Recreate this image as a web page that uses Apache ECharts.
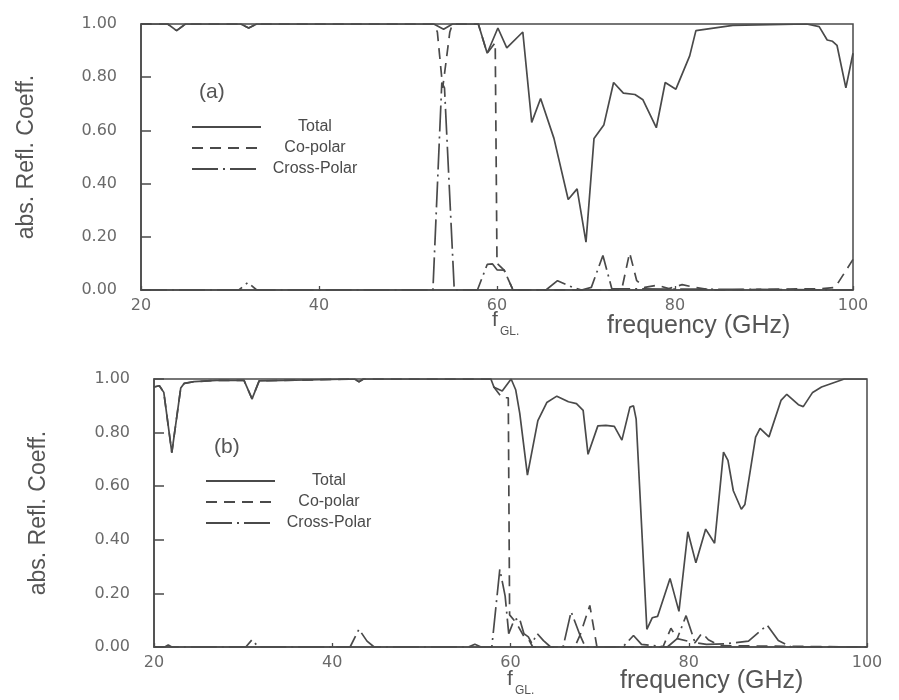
<!DOCTYPE html>
<html><head><meta charset="utf-8">
<script src="https://cdn.jsdelivr.net/npm/echarts@6/dist/echarts.min.js"></script>
<style>html,body{margin:0;padding:0;background:#fff}#c{width:899px;height:700px}</style>
</head><body><div id="c"></div>
<script>
// ---- data (frequency in GHz, |reflection coefficient|) ----
const seriesNames = ['Total', 'Co-polar', 'Cross-Polar'];
const yTickValues = [0, 0.2, 0.4, 0.6, 0.8, 1.0];
const xTickValues = [20, 40, 60, 80, 100];

// panel (a)
const aTotalX = [20, 23.0, 24.0, 25.0, 31.2, 32.1, 33.0, 52.9, 54.0, 55.0, 57.9, 58.9, 60.1, 61.1, 62.9, 63.9, 64.9, 66.4, 68.0, 69.0, 70.0, 70.9, 72.0, 73.1, 74.2, 75.5, 76.4, 77.9, 78.9, 80.1, 81.65, 82.35, 86.5, 94.8, 96.2, 97.1, 97.7, 98.2, 99.2, 100];
const aTotalY = [1.0, 1.0, 0.975, 1.0, 1.0, 0.985, 1.0, 1.0, 0.98, 1.0, 1.0, 0.89, 0.985, 0.91, 0.97, 0.63, 0.72, 0.57, 0.34, 0.38, 0.18, 0.57, 0.62, 0.78, 0.74, 0.735, 0.715, 0.61, 0.78, 0.755, 0.88, 0.975, 0.995, 1.0, 0.99, 0.94, 0.935, 0.92, 0.76, 0.89];
const aCoX = [20, 23.0, 24.0, 25.0, 31.2, 32.1, 33.0, 52.9, 53.3, 53.9, 54.7, 55.0, 57.9, 58.9, 59.8, 60.0, 60.8, 61.8, 74.0, 74.9, 75.7, 76.6, 78.0, 79.3, 80.8, 82.2, 84.0, 96.5, 98.0, 100];
const aCoY = [1.0, 1.0, 0.975, 1.0, 1.0, 0.985, 1.0, 1.0, 0.97, 0.76, 0.97, 1.0, 1.0, 0.89, 0.93, 0.10, 0.075, 0.0, 0.0, 0.14, 0.035, 0.01, 0.018, 0.005, 0.02, 0.01, 0.0, 0.005, 0.01, 0.115];
const aCrossX = [20, 31.0, 32.0, 33.0, 52.8, 53.8, 54.1, 55.2, 57.8, 58.9, 59.5, 60.0, 60.8, 61.8, 65.5, 66.8, 68.5, 69.5, 70.6, 71.9, 72.9, 100];
const aCrossY = [0, 0, 0.028, 0, 0, 0.78, 0.76, 0, 0, 0.096, 0.098, 0.076, 0.075, 0, 0, 0.035, 0.01, 0, 0.01, 0.13, 0.005, 0];

// panel (b)
const bTotalX = [20, 20.6, 21.1, 22.0, 23.0, 23.4, 24.5, 27.0, 30.1, 31.0, 31.8, 42.5, 43.0, 43.5, 57.8, 58.15, 59.07, 60.07, 60.58, 61.04, 61.9, 63.07, 64.07, 65.2, 66.5, 67.4, 68.15, 68.7, 69.8, 70.7, 71.65, 72.5, 73.4, 73.8, 74.1, 75.3, 75.9, 76.5, 77.9, 78.9, 79.9, 80.8, 81.9, 82.9, 83.9, 84.4, 85.0, 85.9, 86.3, 87.5, 88.0, 89.0, 90.35, 91.0, 92.3, 92.85, 93.9, 94.9, 97.45, 100];
const bTotalY = [0.97, 0.975, 0.95, 0.725, 0.966, 0.984, 0.99, 0.995, 0.995, 0.926, 0.993, 1.0, 0.99, 1.0, 1.0, 0.969, 0.955, 1.0, 0.96, 0.872, 0.641, 0.845, 0.912, 0.936, 0.915, 0.908, 0.883, 0.719, 0.825, 0.827, 0.823, 0.772, 0.895, 0.90, 0.85, 0.066, 0.109, 0.114, 0.256, 0.133, 0.43, 0.314, 0.44, 0.387, 0.727, 0.696, 0.583, 0.514, 0.532, 0.783, 0.816, 0.784, 0.92, 0.943, 0.904, 0.897, 0.95, 0.97, 1.0, 1.0];
const bCoX = [20, 20.6, 21.1, 22.0, 23.0, 23.4, 24.5, 27.0, 30.1, 31.0, 31.8, 42.5, 43.0, 43.5, 57.8, 58.15, 59.05, 59.75, 59.9, 60.4, 60.9, 61.5, 62.0, 62.5, 67.2, 67.8, 68.9, 69.7, 77.1, 78.0, 78.7, 80.7, 81.5, 82.2, 83.5, 100];
const bCoY = [0.97, 0.975, 0.95, 0.725, 0.966, 0.984, 0.99, 0.995, 0.995, 0.926, 0.993, 1.0, 0.99, 1.0, 1.0, 0.969, 0.93, 0.93, 0.12, 0.10, 0.075, 0.04, 0.03, 0.0, 0.0, 0.044, 0.155, 0.0, 0.0, 0.07, 0.031, 0.016, 0.053, 0.027, 0.005, 0.0];
const bCrossX = [20, 21.2, 21.6, 22.0, 30.3, 31.0, 31.7, 42.0, 43.0, 43.9, 44.7, 55.3, 56.0, 56.7, 57.9, 58.8, 59.4, 59.8, 60.4, 61.0, 61.5, 62.0, 62.4, 63.0, 63.7, 64.5, 65.9, 66.8, 67.8, 68.4, 72.6, 73.8, 74.7, 77.6, 78.7, 79.7, 80.7, 82.0, 84.1, 86.7, 88.8, 90.05, 91.5, 100];
const bCrossY = [0, 0, 0.008, 0, 0, 0.027, 0, 0, 0.066, 0.022, 0, 0, 0.01, 0, 0, 0.29, 0.19, 0.05, 0.10, 0.108, 0.05, 0.038, 0.013, 0.05, 0.024, 0, 0, 0.132, 0.044, 0.0, 0, 0.043, 0.01, 0, 0.031, 0.117, 0.016, 0.01, 0.012, 0.022, 0.082, 0.024, 0, 0];

// ---- styling ----
const ink = '#4a4a4a';
const labelInk = '#6a6a6a';
const dashTypes = { 'Total': 'solid', 'Co-polar': [11, 7], 'Cross-Polar': [26, 5, 2, 5] };
const zip = (xs, ys) => xs.map((x, i) => [x, ys[i]]);

function lineSeries(name, xs, ys, gi) {
  return {
    name, type: 'line', xAxisIndex: gi, yAxisIndex: gi,
    data: zip(xs, ys), symbol: 'none', showSymbol: false,
    lineStyle: { color: ink, width: 1.7, type: dashTypes[name] },
    itemStyle: { color: ink },
    z: name === 'Total' ? 4 : 3, animation: false
  };
}

const grids = [
  { left: 141, top: 24, width: 712, height: 266 },
  { left: 154, top: 379, width: 713, height: 268 }
];

function xAxisFor(gi) {
  return {
    gridIndex: gi, type: 'value', min: 20, max: 100, interval: 20,
    axisLine: { show: true, lineStyle: { color: ink, width: 1.5 } },
    axisTick: { show: true, inside: true, length: 4, lineStyle: { color: ink, width: 1.3 } },
    splitLine: { show: false },
    axisLabel: { color: labelInk, fontSize: 16, fontFamily: 'DejaVu Sans', margin: 8 }
  };
}
function yAxisFor(gi, gap) {
  return {
    gridIndex: gi, type: 'value', min: 0, max: 1, interval: 0.2,
    axisLine: { show: true, lineStyle: { color: ink, width: 1.5 } },
    axisTick: { show: true, inside: true, length: 10, lineStyle: { color: ink, width: 1.5 } },
    splitLine: { show: false },
    axisLabel: { color: labelInk, fontSize: 16, fontFamily: 'DejaVu Sans', margin: 24,
                 formatter: v => v.toFixed(2) },
    name: 'abs. Refl. Coeff.', nameLocation: 'middle', nameGap: gap, nameRotate: 90,
    nameTextStyle: { fontSize: 23, color: '#555', fontFamily: 'Liberation Sans' }
  };
}

const legendCommon = {
  data: seriesNames, orient: 'vertical', selectedMode: false,
  itemWidth: 69, itemHeight: 14, itemGap: 5,
  itemStyle: { opacity: 0, borderWidth: 0 },
  formatter: name => '{c|' + name + '}',
  textStyle: {
    fontSize: 16, color: '#4a4a4a', fontFamily: 'Liberation Sans',
    rich: { c: { width: 98, align: 'center', fontSize: 16, color: '#4a4a4a', fontFamily: 'Liberation Sans' } }
  }
};

const txt = (left, top, text, size) => ({
  type: 'text', left, top, silent: true,
  style: { text, fill: '#555', font: size + 'px "Liberation Sans"' }
});

const option = {
  backgroundColor: '#ffffff',
  animation: false,
  grid: grids.map(g => Object.assign({ show: true, borderColor: ink, borderWidth: 1.5, containLabel: false }, g)),
  xAxis: [xAxisFor(0), xAxisFor(1)],
  yAxis: [yAxisFor(0, 103), yAxisFor(1, 104)],
  legend: [
    Object.assign({ left: 186, top: 114 }, legendCommon),
    Object.assign({ left: 200, top: 468 }, legendCommon)
  ],
  series: [
    lineSeries('Total', aTotalX, aTotalY, 0),
    lineSeries('Co-polar', aCoX, aCoY, 0),
    lineSeries('Cross-Polar', aCrossX, aCrossY, 0),
    lineSeries('Total', bTotalX, bTotalY, 1),
    lineSeries('Co-polar', bCoX, bCoY, 1),
    lineSeries('Cross-Polar', bCrossX, bCrossY, 1)
  ],
  graphic: [
    txt(199, 82, '(a)', 21),
    txt(214, 437, '(b)', 21),
    txt(607, 314, 'frequency (GHz)', 25),
    txt(620, 669, 'frequency (GHz)', 25),
    txt(492, 310, 'f', 21),
    txt(500, 326, 'GL.', 12),
    txt(507, 669, 'f', 21),
    txt(515, 685, 'GL.', 12)
  ]
};

const chart = echarts.init(document.getElementById('c'), null, { renderer: 'canvas' });
chart.setOption(option);
</script>
</body></html>
